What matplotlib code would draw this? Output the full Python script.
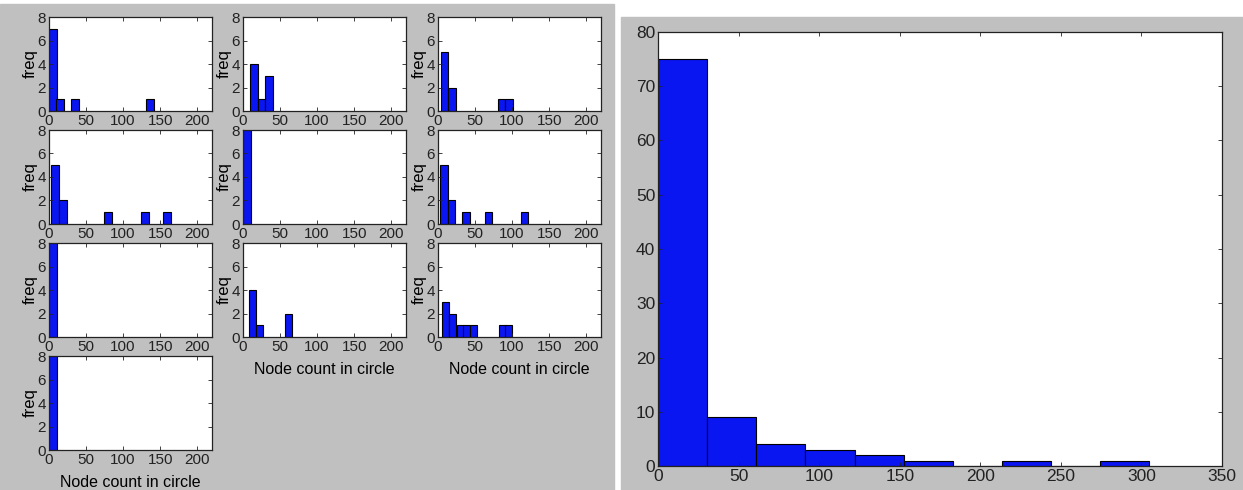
import matplotlib.pyplot as plt
from matplotlib.patches import Rectangle

plt.rcParams['font.family'] = ['Liberation Sans', 'DejaVu Sans']

W, H = 1243, 490

# small histograms: left edges of bins, counts, bin width
small_edges = [
    [0, 10, 30, 131],
    [10, 20, 30],
    [4, 14, 81, 91],
    [3, 14, 74, 124, 154],
    [0],
    [3, 13, 33, 63, 112],
    [0],
    [8, 18, 57],
    [6, 15, 25, 34, 43, 82, 91],
    [0.5],
]
small_counts = [
    [7, 1, 1, 1],
    [4, 1, 3],
    [5, 2, 1, 1],
    [5, 2, 1, 1, 1],
    [8],
    [5, 2, 1, 1, 1],
    [8],
    [4, 1, 2],
    [3, 2, 1, 1, 1, 1, 1],
    [8],
]
small_widths = [10.5, 10, 10, 10.5, 11, 10, 11, 9.5, 9.5, 10.5]
small_xticks = [0, 50, 100, 150, 200]
small_yticks = [0, 2, 4, 6, 8]

# aggregated histogram
all_edges = [0, 30.5, 61, 91.5, 122, 152.5, 183, 213.5, 244, 274.5]
all_counts = [75, 9, 4, 3, 2, 1, 0, 1, 0, 1]
all_width = 30.5
all_xticks = [0, 50, 100, 150, 200, 250, 300, 350]
all_yticks = [0, 10, 20, 30, 40, 50, 60, 70, 80]

bar_color = '#0a16f2'
gray = '#c0c0c0'


def px_axes(fig, left, top, right, bottom):
    return fig.add_axes([left / W, 1 - bottom / H, (right - left) / W, (bottom - top) / H])


def style(ax, size):
    ax.tick_params(direction='in', top=True, right=True, length=3, width=0.6,
                   labelsize=size, pad=2, colors='#222222')
    for s in ax.spines.values():
        s.set_linewidth(0.9)
        s.set_color('#222222')


fig = plt.figure(figsize=(W / 100, H / 100), dpi=100)
fig.patches.append(Rectangle((0, 0), 614 / W, 1 - 4 / H, transform=fig.transFigure,
                             color=gray, zorder=-1))
fig.patches.append(Rectangle((621 / W, 0), 1 - 621 / W, 1 - 17 / H, transform=fig.transFigure,
                             color=gray, zorder=-1))

col_left = [49, 243, 438]
row_top = [17, 130, 243, 356]
aw, ah = 163, 94
bottom_panels = {9, 7, 8}

for i in range(10):
    r, c = divmod(i, 3)
    x0, y0 = col_left[c], row_top[r]
    ax = px_axes(fig, x0, y0, x0 + aw, y0 + ah)
    ax.bar(small_edges[i], small_counts[i], width=small_widths[i], align='edge',
           color=bar_color, edgecolor='black', linewidth=0.8)
    ax.set_xlim(0, 220)
    ax.set_ylim(0, 8)
    ax.set_xticks(small_xticks)
    ax.set_yticks(small_yticks)
    ax.set_ylabel('freq', fontsize=12, labelpad=0)
    if i in bottom_panels:
        ax.set_xlabel('Node count in circle', fontsize=11.5, labelpad=6)
    style(ax, 11)

ax = px_axes(fig, 658, 32, 1222, 466)
ax.bar(all_edges, all_counts, width=all_width, align='edge',
       color=bar_color, edgecolor='black', linewidth=0.8)
ax.set_xlim(0, 350)
ax.set_ylim(0, 80)
ax.set_xticks(all_xticks)
ax.set_yticks(all_yticks)
style(ax, 12.5)

fig.savefig('out.png', dpi=100)
